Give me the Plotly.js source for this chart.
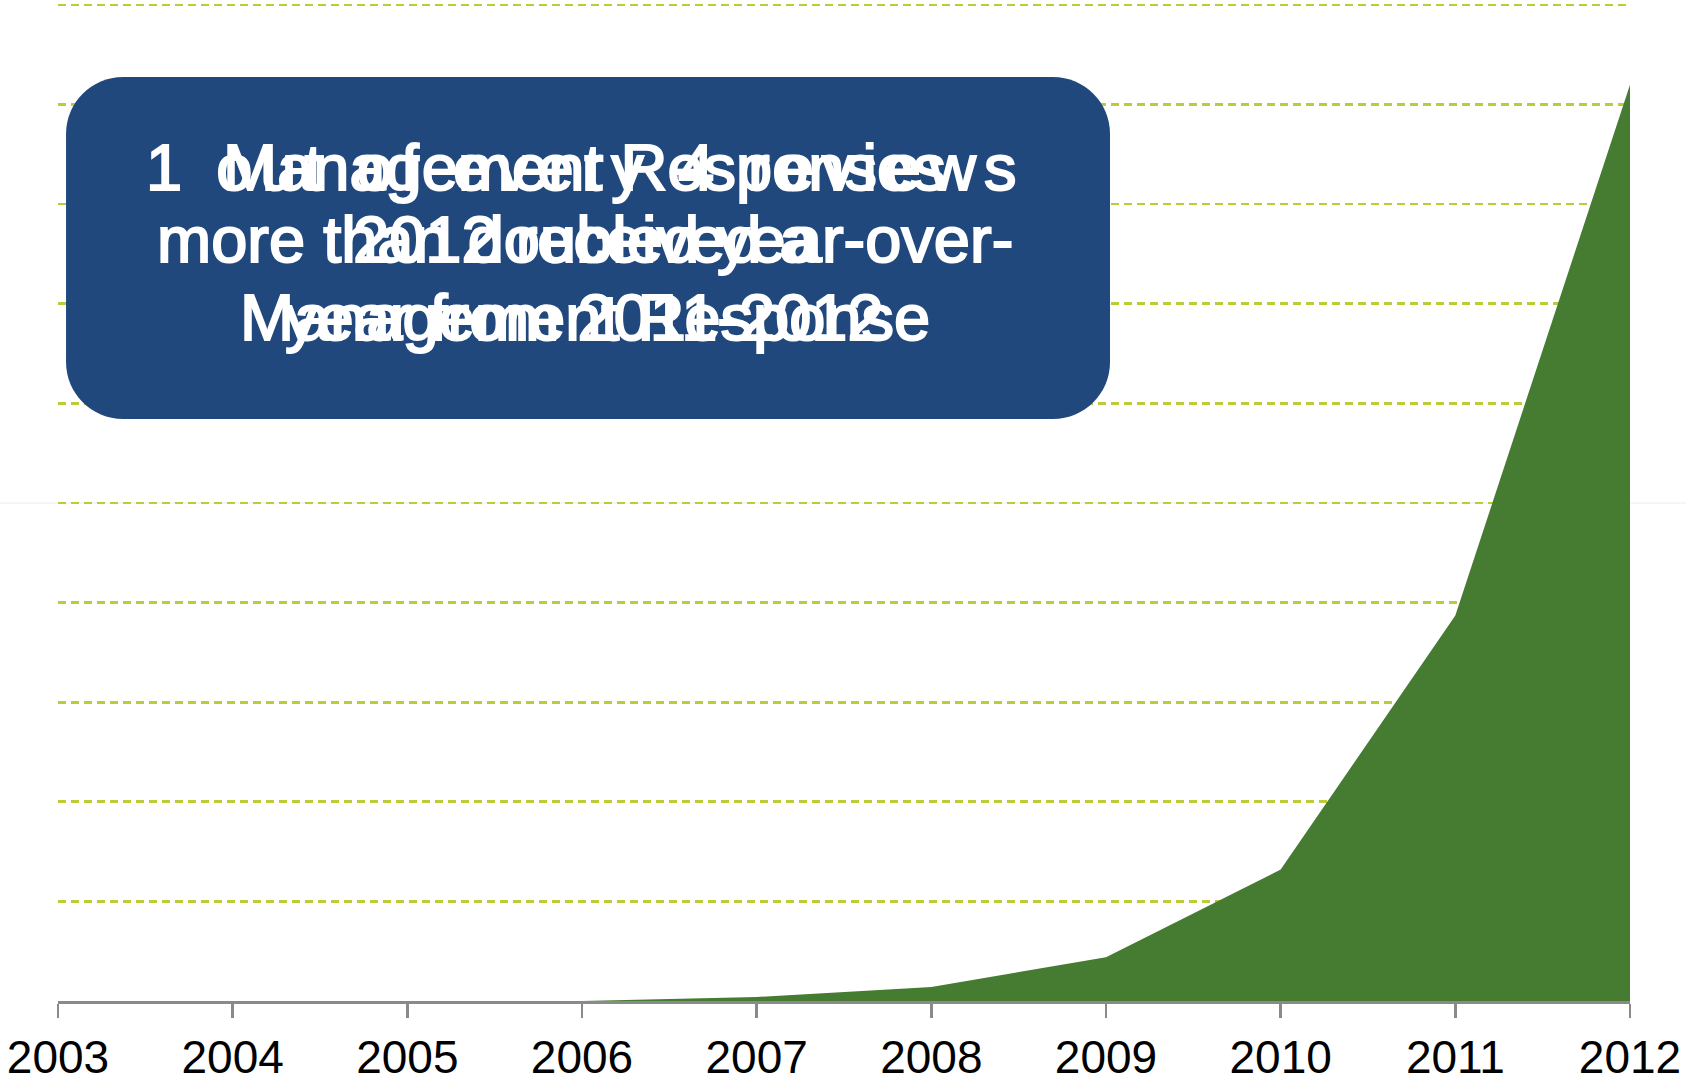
<!DOCTYPE html>
<html>
<head>
<meta charset="utf-8">
<script src="https://cdn.plot.ly/plotly-3.0.1.min.js"></script>
<style>
  html, body { margin: 0; padding: 0; background: #ffffff; }
  #chart { width: 1686px; height: 1083px; }
  .annotation text { stroke: #ffffff !important; stroke-width: 2px !important; paint-order: fill; }
  .annotation[data-index="3"] text { letter-spacing: 8px; }
</style>
</head>
<body>
<div id="chart"></div>
<script>
// Data (arbitrary units, gridline = 1 unit)
const years = [2003, 2004, 2005, 2006, 2007, 2008, 2009, 2010, 2011, 2012];
const responses = [0, 0, 0, 0, 0.04, 0.14, 0.44, 1.32, 3.87, 9.2];
const tickLabels = ["2003", "2004", "2005", "2006", "2007", "2008", "2009", "2010", "2011", "2012"];
const calloutA = ["Management Responses", "more than doubled year-over-", "year from 2011-2012"];
const calloutB = ["1 out of every 4 reviews", "2012 received a", "Management Response"];

const FONT = '"Liberation Sans", Arial, Helvetica, sans-serif';

// Rounded box (data coordinates of the axes)
const bx0 = 2003.046, bx1 = 2009.023, by0 = 5.843, by1 = 9.277;
const rx = 0.326, ry = 0.572, k = 0.5523;
const boxPath =
  `M ${bx0 + rx},${by1} L ${bx1 - rx},${by1} ` +
  `C ${bx1 - rx + k * rx},${by1} ${bx1},${by1 - ry + k * ry} ${bx1},${by1 - ry} ` +
  `L ${bx1},${by0 + ry} ` +
  `C ${bx1},${by0 + ry - k * ry} ${bx1 - rx + k * rx},${by0} ${bx1 - rx},${by0} ` +
  `L ${bx0 + rx},${by0} ` +
  `C ${bx0 + rx - k * rx},${by0} ${bx0},${by0 + ry - k * ry} ${bx0},${by0 + ry} ` +
  `L ${bx0},${by1 - ry} ` +
  `C ${bx0},${by1 - ry + k * ry} ${bx0 + rx - k * rx},${by1} ${bx0 + rx},${by1} Z`;

const lineY = [0.8350, 0.7635, 0.6850];
const cx = 0.3352;
const annotations = [];
calloutA.forEach((t, i) => annotations.push({
  xref: 'paper', yref: 'paper', x: cx, y: lineY[i], xanchor: 'center', yanchor: 'middle',
  text: t, showarrow: false, font: { family: FONT, size: 65, color: '#ffffff' }
}));
calloutB.forEach((t, i) => annotations.push({
  xref: 'paper', yref: 'paper', x: cx, y: lineY[i], xanchor: 'center', yanchor: 'middle',
  text: t, showarrow: false, font: { family: FONT, size: 65, color: '#ffffff' }
}));

const trace = {
  type: 'scatter', mode: 'lines', x: years, y: responses,
  fill: 'tozeroy', fillcolor: '#467b32',
  line: { width: 0, color: '#467b32' }, hoverinfo: 'skip', showlegend: false
};

const layout = {
  width: 1686, height: 1083,
  margin: { l: 58, r: 56, t: 3, b: 82, pad: 0 },
  paper_bgcolor: '#ffffff', plot_bgcolor: '#ffffff',
  showlegend: false,
  xaxis: {
    range: [2003, 2012], tickvals: years, ticktext: tickLabels,
    showgrid: false, zeroline: false,
    showline: true, linecolor: '#8a8a8a', linewidth: 3,
    ticks: 'outside', ticklen: 14, tickwidth: 2.5, tickcolor: '#8a8a8a',
    tickfont: { family: FONT, size: 46, color: '#000000' }
  },
  yaxis: {
    range: [0, 10.02], dtick: 1, tick0: 0,
    showticklabels: false, ticks: '', zeroline: false, showline: false,
    showgrid: true, gridcolor: '#bccb36', gridwidth: 2.6, griddash: '8px,5px'
  },
  shapes: [
    { type: 'line', xref: 'paper', yref: 'y', x0: -0.037, x1: 1.036, y0: 5, y1: 5,
      line: { color: '#ececec', width: 1 }, layer: 'below' },
    { type: 'path', xref: 'x', yref: 'y', path: boxPath,
      fillcolor: '#21487d', line: { width: 0 }, layer: 'above' }
  ],
  annotations: annotations
};

Plotly.newPlot('chart', [trace], layout, { displayModeBar: false, staticPlot: true });
</script>
</body>
</html>
